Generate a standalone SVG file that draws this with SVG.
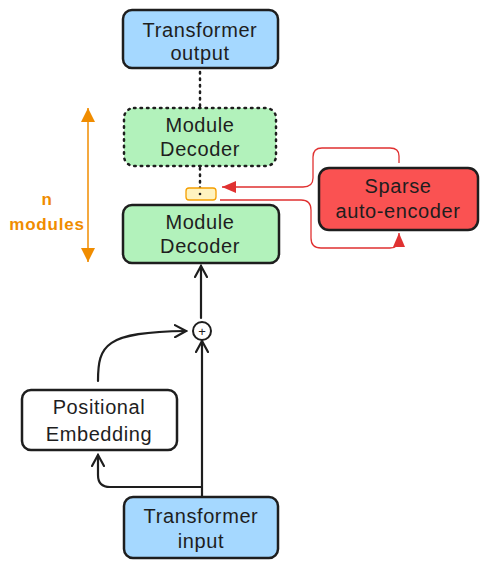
<svg xmlns="http://www.w3.org/2000/svg" width="486" height="568" viewBox="0 0 486 568">
<style>
text{font-family:"Liberation Sans","DejaVu Sans",sans-serif;font-size:20px;letter-spacing:0.6px;fill:#1e1e1e;text-anchor:middle}
.box{stroke:#1e1e1e;stroke-width:2.5}
.blue{fill:#a5d8ff}
.green{fill:#b2f2bb}
.ln{fill:none;stroke:#1e1e1e;stroke-width:2.2;stroke-linecap:round;stroke-linejoin:round}
.dot{fill:none;stroke:#1e1e1e;stroke-width:2.5;stroke-dasharray:1.5 5;stroke-linecap:round}
.red{fill:none;stroke:#e03131;stroke-width:1.3}
.org{fill:none;stroke:#f08c00;stroke-width:1.5}
.otx{fill:#f08c00;font-size:17px;font-weight:bold;letter-spacing:0.8px}
</style>
<defs>
<marker id="ah" markerWidth="14" markerHeight="14" refX="12" refY="7" orient="auto" markerUnits="userSpaceOnUse">
<path d="M1,1 L12,7 L1,13" fill="none" stroke="#1e1e1e" stroke-width="2.2" stroke-linecap="round"/>
</marker>
<marker id="rh" markerWidth="16" markerHeight="14" refX="14" refY="7" orient="auto" markerUnits="userSpaceOnUse">
<path d="M0,1 L14,7 L0,13 Z" fill="#e03131"/>
</marker>
<marker id="oh" markerWidth="16" markerHeight="16" refX="14" refY="8" orient="auto" markerUnits="userSpaceOnUse">
<path d="M0,1 L14,8 L0,15 Z" fill="#f08c00"/>
</marker>
</defs>
<g id="connectors">
<path class="dot" d="M200,72 L200,106"/>
<path class="dot" d="M200,168 L200,188"/>
<path class="ln" d="M201,318 L201,266" marker-end="url(#ah)"/>
<path class="ln" d="M202,498 L202,341" marker-end="url(#ah)"/>
<path class="ln" d="M98,381 C98,345 105,332 186,331" marker-end="url(#ah)"/>
<path class="ln" d="M202,487 L110,487 Q98,487 98,475 L98,455" marker-end="url(#ah)"/>
<path class="red" d="M399,163 L399,156 Q399,148 390,148 L322,148 Q313,148 313,157 L313,178 Q313,187 303,187 L222,187" marker-end="url(#rh)"/>
<path class="red" d="M220,200 L301,200 Q311,200 311,210 L311,238 Q311,248 321,248 L390,248 Q399,248 399,240 L399,233" marker-end="url(#rh)"/>
<path class="org" d="M88,184 L88,108" marker-end="url(#oh)"/>
<path class="org" d="M88,184 L88,262" marker-end="url(#oh)"/>
</g>
<g id="transformer-output">
<rect class="box blue" x="123" y="10" width="155" height="58" rx="9"/>
<text x="200" y="37">Transformer</text>
<text x="200" y="60">output</text>
</g>
<g id="module-decoder-top">
<rect x="124" y="108" width="152" height="58" rx="10" class="green" stroke="#1e1e1e" stroke-width="2.5" stroke-dasharray="1.5 5" stroke-linecap="round"/>
<text x="200" y="132">Module</text>
<text x="200" y="156">Decoder</text>
</g>
<g id="hook">
<rect x="186" y="188" width="30" height="12" rx="3" fill="#fff3bf" stroke="#f59f00" stroke-width="1.3"/>
<circle cx="200" cy="194" r="1.3" fill="#1e1e1e"/>
</g>
<g id="module-decoder">
<rect class="box green" x="123" y="205" width="156" height="58" rx="9"/>
<text x="200" y="229">Module</text>
<text x="200" y="253">Decoder</text>
</g>
<g id="sparse-autoencoder">
<rect class="box" fill="#fa5252" x="319" y="168" width="159" height="62" rx="10"/>
<text x="398" y="193">Sparse</text>
<text x="398" y="218">auto-encoder</text>
</g>
<g id="n-modules">
<text class="otx" x="47" y="205">n</text>
<text class="otx" x="47" y="230">modules</text>
</g>
<g id="plus">
<circle cx="202" cy="331" r="9" fill="#fff" stroke="#1e1e1e" stroke-width="2"/>
<text x="202" y="336" style="font-size:13px;letter-spacing:0">+</text>
</g>
<g id="positional-embedding">
<rect class="box" fill="#fff" x="22" y="390" width="155" height="60" rx="9"/>
<text x="99" y="414">Positional</text>
<text x="99" y="441">Embedding</text>
</g>
<g id="transformer-input">
<rect class="box blue" x="124" y="497" width="154" height="61" rx="9"/>
<text x="201" y="523">Transformer</text>
<text x="201" y="548">input</text>
</g>
</svg>
